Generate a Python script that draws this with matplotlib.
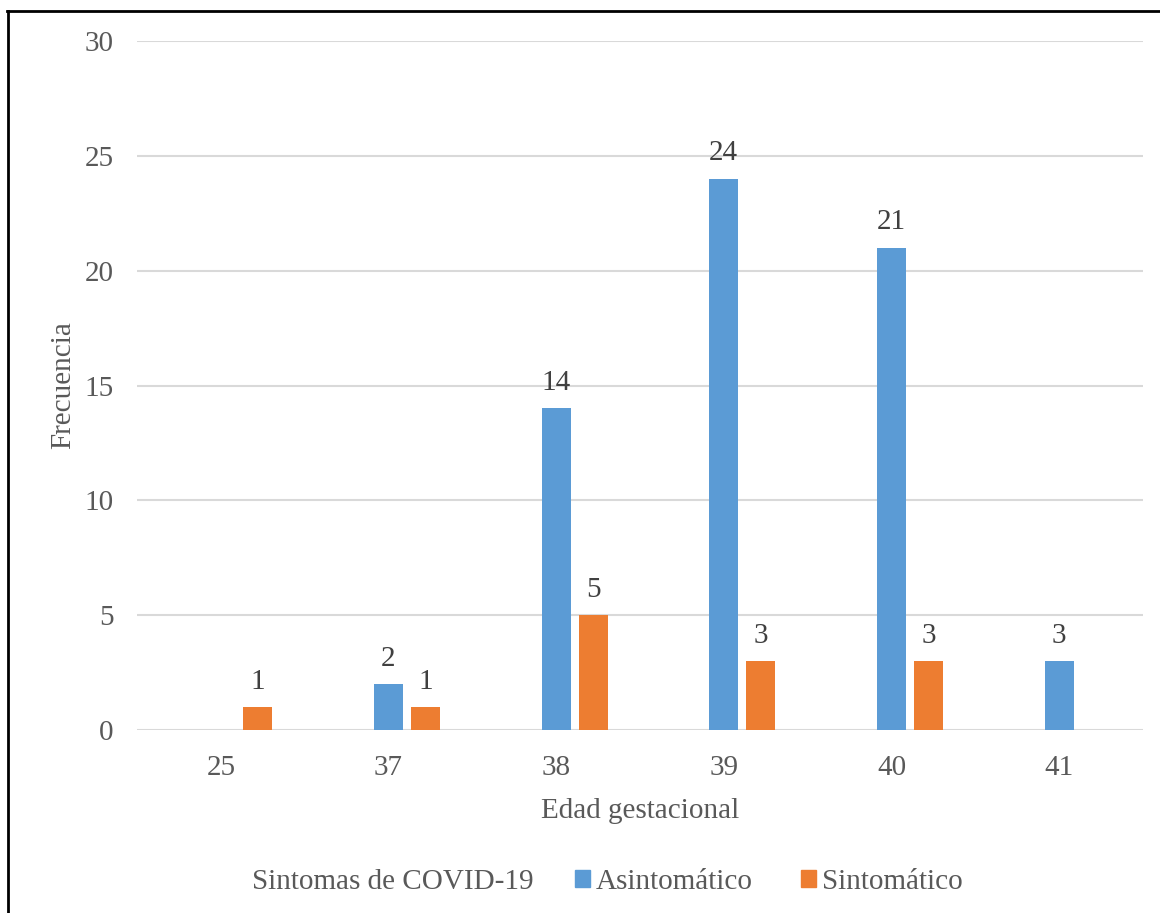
import matplotlib
matplotlib.use("Agg")
import matplotlib.pyplot as plt
import numpy as np
from matplotlib.lines import Line2D
from matplotlib.patches import Patch

# data
edades = ["25", "37", "38", "39", "40", "41"]
asintomatico = [0, 2, 14, 24, 21, 3]
sintomatico = [1, 1, 5, 3, 3, 0]
y_ticks = [0, 5, 10, 15, 20, 25, 30]

BLUE = "#5b9bd5"
ORANGE = "#ed7d31"
TICK_COL = "#595959"
LABEL_COL = "#404040"

plt.rcParams["font.family"] = ["Liberation Serif", "DejaVu Serif"]

fig = plt.figure(figsize=(11.6, 9.13), dpi=100)
ax = fig.add_axes([0.1181, 0.2004, 0.8672, 0.7547])

x = np.arange(len(edades))
width = 0.173
offset = 0.22

bars_a = ax.bar(x, asintomatico, width, color=BLUE, zorder=3)
bars_s = ax.bar(x + offset, sintomatico, width, color=ORANGE, zorder=3)

# data labels, skip the zero values like Excel does here
for bars, vals in ((bars_a, asintomatico), (bars_s, sintomatico)):
    for b, v in zip(bars, vals):
        if v == 0:
            continue
        ax.annotate(str(v), (b.get_x() + b.get_width() / 2, v),
                    xytext=(0, 9), textcoords="offset points",
                    ha="center", va="bottom", fontsize=21, color=LABEL_COL)

ax.set_xlim(-0.5, len(edades) - 0.5)
ax.set_ylim(0, 30)
ax.set_yticks(y_ticks)
ax.set_xticks(x)
ax.set_xticklabels(edades)
ax.tick_params(axis="both", length=0, labelsize=21, labelcolor=TICK_COL)
ax.tick_params(axis="x", pad=18)
ax.tick_params(axis="y", pad=17)
ax.grid(axis="y", color="#d9d9d9", linewidth=1.5, zorder=0)
for s in ax.spines.values():
    s.set_visible(False)

ax.set_xlabel("Edad gestacional", fontsize=21, color=TICK_COL, labelpad=12)
ax.set_ylabel("Frecuencia", fontsize=21, color=TICK_COL, labelpad=6)

# legend built by hand: title text on the left, then the two series
leg_y = 1 - 882 / 913
fig.text(252 / 1160, leg_y, "Sintomas de COVID-19", fontsize=21,
         color=TICK_COL, va="center", ha="left")
leg = fig.legend(handles=[Patch(color=BLUE, label="Asintomático"),
                          Patch(color=ORANGE, label="Sintomático")],
                 loc="center left", bbox_to_anchor=(575 / 1160, leg_y),
                 ncol=2, frameon=False, fontsize=21, handlelength=0.52,
                 handleheight=0.52, handletextpad=0.2, columnspacing=1.65,
                 borderaxespad=0, borderpad=0)
for t in leg.get_texts():
    t.set_color(TICK_COL)

# black frame on left and top
fig.add_artist(Line2D([8 / 1160, 8 / 1160], [0, 1 - 11 / 913], color="black", lw=2))
fig.add_artist(Line2D([7 / 1160, 1], [1 - 11 / 913, 1 - 11 / 913], color="black", lw=2))

fig.savefig("out.png", dpi=100)
